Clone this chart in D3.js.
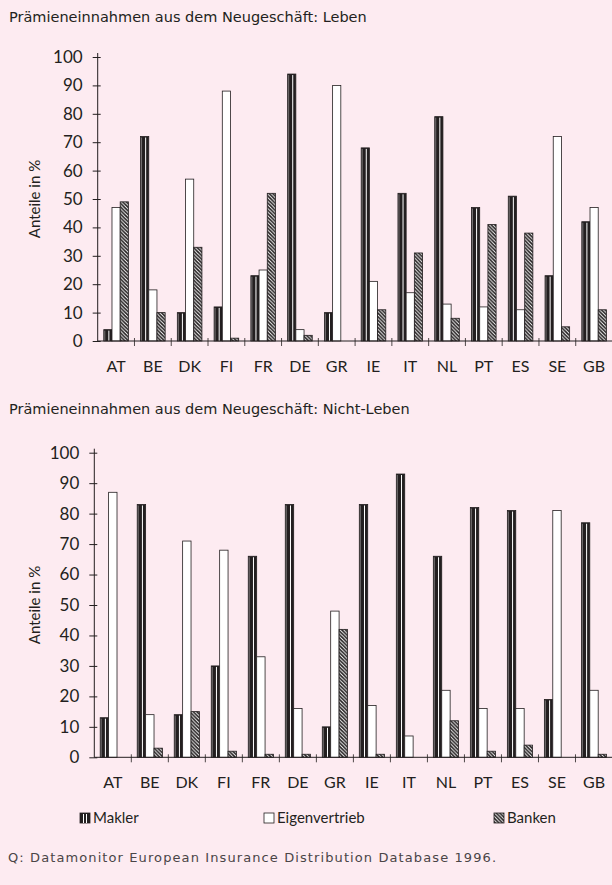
<!DOCTYPE html>
<html><head><meta charset="utf-8">
<script src="https://cdn.jsdelivr.net/npm/d3@7"></script>
<style>
html,body{margin:0;padding:0;background:#fdebf1;}
svg{display:block;font-family:"Lato","DejaVu Sans",sans-serif;}
</style></head>
<body>
<svg id="c" width="612" height="885"></svg>
<script>
const countries = ["AT","BE","DK","FI","FR","DE","GR","IE","IT","NL","PT","ES","SE","GB"];
const seriesNames = ["Makler","Eigenvertrieb","Banken"];
const lebenMakler = [4,72,10,12,23,94,10,68,52,79,47,51,23,42];
const lebenEigen  = [47,18,57,88,25,4,90,21,17,13,12,11,72,47];
const lebenBanken = [49,10,33,1,52,2,0,11,31,8,41,38,5,11];
const nlMakler = [13,83,14,30,66,83,10,83,93,66,82,81,19,77];
const nlEigen  = [87,14,71,68,33,16,48,17,7,22,16,16,81,22];
const nlBanken = [0,3,15,2,1,1,42,1,0,12,2,4,0,1];
const yTicks = [0,10,20,30,40,50,60,70,80,90,100];
const title1 = "Prämieneinnahmen aus dem Neugeschäft: Leben";
const title2 = "Prämieneinnahmen aus dem Neugeschäft: Nicht-Leben";
const yLabel = "Anteile in %";
const source = "Q: Datamonitor European Insurance Distribution Database 1996.";

const svg = d3.select("#c");
const ink = "#231f20";
const wide = "'DejaVu Sans',sans-serif";
const defs = svg.append("defs");
const pat = defs.append("pattern").attr("id","hatch").attr("patternUnits","userSpaceOnUse")
  .attr("width",3.6).attr("height",3.6);
pat.append("rect").attr("width",3.6).attr("height",3.6).attr("fill","#fff");
pat.append("path").attr("d","M-1,-1 L4.6,4.6 M-1,2.6 L1,4.6 M2.6,-1 L4.6,1").attr("stroke",ink).attr("stroke-width",1.6);

function drawChart(cfg){
  const g = svg.append("g");
  const x = d3.scaleBand().domain(countries).range([cfg.x0, cfg.x1]);
  const y = d3.scaleLinear().domain([0,100]).range([cfg.y0, cfg.y100]);
  const bw = cfg.bw;
  const data = countries.map((c,i)=>({c, v:[cfg.m[i], cfg.e[i], cfg.b[i]]}));
  const off = (x.bandwidth() - 3*bw)/2;
  data.forEach(d=>{
    d.v.forEach((v,k)=>{
      if(v<=0) return;
      const bx = x(d.c)+off+k*bw;
      const r = g.append("rect").attr("x",bx).attr("y",y(v)).attr("width",bw).attr("height",y(0)-y(v))
        .attr("stroke",ink).attr("stroke-width",0.8);
      if(k===0){
        r.attr("fill",ink);
        g.append("line").attr("x1",bx+bw*0.62).attr("x2",bx+bw*0.62).attr("y1",y(v)+1).attr("y2",y(0))
          .attr("stroke","#fff").attr("stroke-width",1);
        g.append("line").attr("x1",bx+1).attr("x2",bx+1).attr("y1",y(v)+1).attr("y2",y(0))
          .attr("stroke","#8a8688").attr("stroke-width",0.8);
      } else if(k===1){
        r.attr("fill","#fff");
      } else {
        r.attr("fill","url(#hatch)");
      }
    });
  });
  const yAx = d3.axisLeft(y).tickValues(yTicks).tickSize(5).tickPadding(10);
  const ya = g.append("g").attr("transform",`translate(${cfg.x0},0)`).call(yAx);
  ya.select(".domain").attr("stroke",ink).attr("d",`M0,${cfg.y100-4}V${cfg.y0}`);
  ya.selectAll(".tick line").attr("stroke",ink).attr("x2",-5).attr("x1",3);
  ya.selectAll(".tick text").attr("fill",ink).attr("font-size",17).attr("font-family","Lato,sans-serif");
  const xa = g.append("g").attr("transform",`translate(0,${cfg.y0})`);
  xa.append("line").attr("x1",cfg.x0).attr("x2",cfg.x1).attr("stroke",ink).attr("stroke-width",1);
  countries.forEach((c,i)=>{
    if(i>0) xa.append("line").attr("x1",x(c)).attr("x2",x(c)).attr("y1",-3).attr("y2",5).attr("stroke",ink).attr("stroke-width",0.8);
    xa.append("text").attr("x",x(c)+x.bandwidth()/2).attr("y",31).attr("text-anchor","middle")
      .attr("fill",ink).attr("font-size",16).text(c);
  });
  g.append("text").attr("x",9).attr("y",cfg.ty).attr("font-size",14.5).attr("font-family",wide).attr("fill",ink).text(cfg.title);
  g.append("text").attr("transform",`translate(${cfg.lx},${(cfg.y0+cfg.y100)/2}) rotate(-90)`)
    .attr("text-anchor","middle").attr("font-size",15).attr("fill",ink).text(yLabel);
}

drawChart({x0:97.7,x1:612.5,y0:341,y100:57,bw:8.2,m:lebenMakler,e:lebenEigen,b:lebenBanken,title:title1,ty:22,lx:40});
drawChart({x0:94.3,x1:612.5,y0:757.3,y100:452.7,bw:8.4,m:nlMakler,e:nlEigen,b:nlBanken,title:title2,ty:414,lx:40});

const leg = svg.append("g");
const legX = [80,264,494];
seriesNames.forEach((s,k)=>{
  const lx = legX[k], ly = 813;
  const r = leg.append("rect").attr("x",lx).attr("y",ly).attr("width",10).attr("height",10).attr("stroke",ink).attr("stroke-width",0.8);
  if(k===0){
    r.attr("fill",ink);
    leg.append("line").attr("x1",lx+3.5).attr("x2",lx+3.5).attr("y1",ly+1).attr("y2",ly+10).attr("stroke","#fff").attr("stroke-width",1);
    leg.append("line").attr("x1",lx+6.5).attr("x2",lx+6.5).attr("y1",ly+1).attr("y2",ly+10).attr("stroke","#fff").attr("stroke-width",1);
  } else if(k===1) r.attr("fill","#fff");
  else r.attr("fill","url(#hatch)");
  leg.append("text").attr("x",lx+13).attr("y",ly+10).attr("font-size",15).attr("fill",ink).text(s);
});
svg.append("text").attr("x",8).attr("y",862).attr("font-size",13).attr("letter-spacing",1.1).attr("font-family",wide).attr("fill","#4a4547").text(source);
</script>
</body></html>
